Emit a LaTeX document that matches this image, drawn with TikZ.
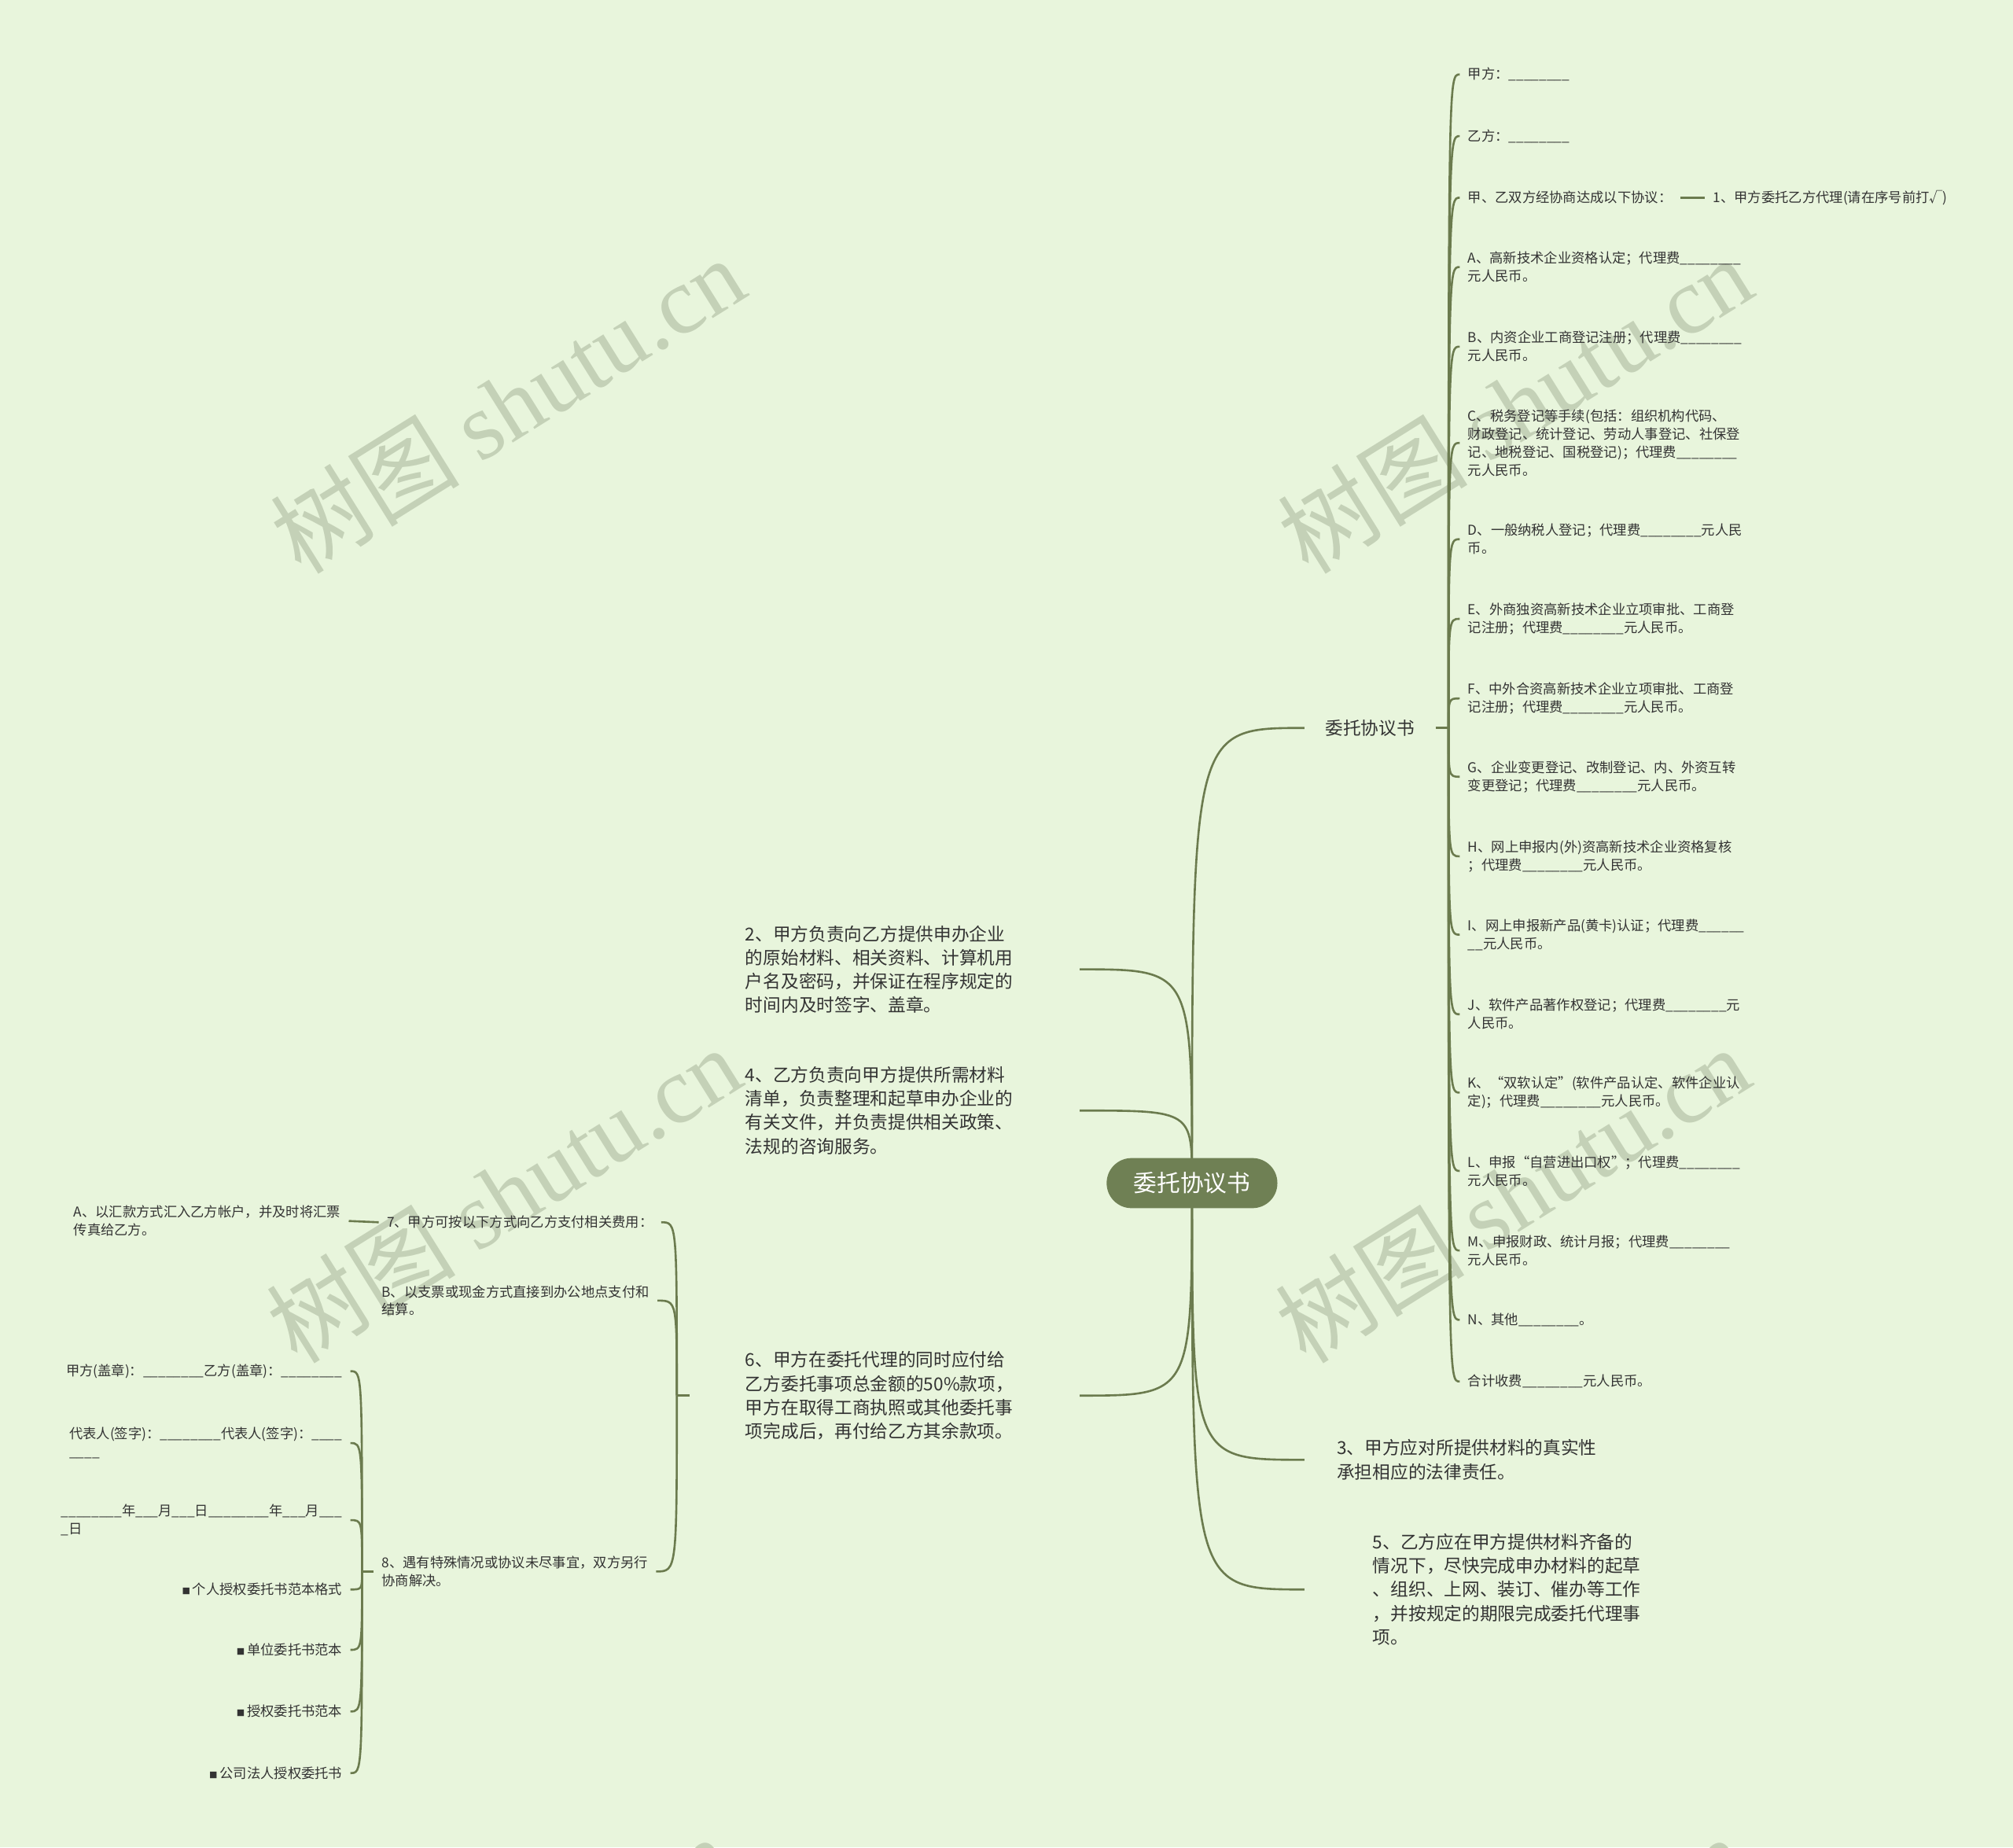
\documentclass[tikz,border=0pt]{standalone}
\usepackage{fontspec}
\setmainfont{Noto Sans CJK SC}
\newfontfamily\wmserif{Liberation Serif}
\newfontfamily\wmcjk{Noto Sans CJK SC}
\usetikzlibrary{calc}
\definecolor{bgc}{HTML}{E8F5DC}
\definecolor{lnc}{HTML}{6B7B4E}
\definecolor{rootc}{HTML}{6F8054}
\definecolor{txc}{HTML}{333333}
\definecolor{wmc}{HTML}{C4D1B7}
\newcommand{\bl}{\_\_\_\_\_\_\_\_}
\newcommand{\sqb}{{\fontsize{3.2pt}{3.2pt}\selectfont ■}\,}
\pgfdeclarelayer{wmlayer}
\pgfdeclarelayer{cnlayer}
\pgfsetlayers{wmlayer,cnlayer,main}
\tikzset{
  sm/.style={font=\fontsize{5.3pt}{7pt}\selectfont, text=txc, align=left, inner xsep=3pt, inner ysep=1pt},
  md/.style={font=\fontsize{6.95pt}{9.25pt}\selectfont, text=txc, align=left, inner ysep=1pt},
  link/.style={draw=lnc, line width=0.8pt},
  rootbox/.style={fill=rootc, text=white, rounded corners=9.7pt, minimum width=66.5pt, minimum height=19.5pt, inner sep=0pt, font=\fontsize{9.1pt}{11pt}\selectfont},
  wmark/.style={text=wmc, rotate=32, inner sep=0pt, font=\fontsize{37pt}{40pt}\selectfont}
}
\begin{document}
\begin{tikzpicture}[x=0.5pt, y=-0.5pt]
\useasboundingbox (0,0) rectangle (1568,1439);

\begin{pgfonlayer}{wmlayer}
\fill[bgc] (0,0) rectangle (1568,1439);
\foreach \wx/\wy in {395/315, 1180/315, 392/930, 1178/930, 385/1545, 1175/1545}
  \node[wmark] (wm\wx\wy) at (\wx,\wy) {\wmcjk 树图 \wmserif shutu.cn};
\end{pgfonlayer}

% root
\node[rootbox] (root) at (928.5,921.5) {委托协议书};

% right main branch
\node[md, inner xsep=8pt, anchor=west] (wt) at (1016,567) {委托协议书};

\node[sm, anchor=west] (r1) at (1137,58) {甲方：\bl};
\node[sm, anchor=west] (r2) at (1137,106) {乙方：\bl};
\node[sm, anchor=west] (r3) at (1137,154) {甲、乙双方经协商达成以下协议：};
\node[sm, anchor=west] (r3a) at (1328,154) {1、甲方委托乙方代理(请在序号前打√)};
\node[sm, anchor=west] (rA) at (1137,208) {A、高新技术企业资格认定；代理费\bl\\元人民币。};
\node[sm, anchor=west] (rB) at (1137,270) {B、内资企业工商登记注册；代理费\bl\\元人民币。};
\node[sm, anchor=west] (rC) at (1137,345) {C、税务登记等手续(包括：组织机构代码、\\财政登记、统计登记、劳动人事登记、社保登\\记、地税登记、国税登记)；代理费\bl\\元人民币。};
\node[sm, anchor=west] (rD) at (1137,420) {D、一般纳税人登记；代理费\bl 元人民\\币。};
\node[sm, anchor=west] (rE) at (1137,482) {E、外商独资高新技术企业立项审批、工商登\\记注册；代理费\bl 元人民币。};
\node[sm, anchor=west] (rF) at (1137,544) {F、中外合资高新技术企业立项审批、工商登\\记注册；代理费\bl 元人民币。};
\node[sm, anchor=west] (rG) at (1137,605) {G、企业变更登记、改制登记、内、外资互转\\变更登记；代理费\bl 元人民币。};
\node[sm, anchor=west] (rH) at (1137,667) {H、网上申报内(外)资高新技术企业资格复核\\；代理费\bl 元人民币。};
\node[sm, anchor=west] (rI) at (1137,728) {I、网上申报新产品(黄卡)认证；代理费\_\_\_\_\_\_\\\_\_元人民币。};
\node[sm, anchor=west] (rJ) at (1137,790) {J、软件产品著作权登记；代理费\bl 元\\人民币。};
\node[sm, anchor=west] (rK) at (1137,851) {K、“双软认定”(软件产品认定、软件企业认\\定)；代理费\bl 元人民币。};
\node[sm, anchor=west] (rL) at (1137,912) {L、申报“自营进出口权”；代理费\bl\\元人民币。};
\node[sm, anchor=west] (rM) at (1137,974) {M、申报财政、统计月报；代理费\bl\\元人民币。};
\node[sm, anchor=west] (rN) at (1137,1028) {N、其他\bl。};
\node[sm, anchor=west] (rS) at (1137,1076) {合计收费\bl 元人民币。};

% right lower branches
\node[md, inner xsep=12.5pt, anchor=west] (c3) at (1016,1137) {3、甲方应对所提供材料的真实性\\承担相应的法律责任。};
\node[md, inner xsep=26.5pt, anchor=west] (c5) at (1016,1238) {5、乙方应在甲方提供材料齐备的\\情况下，尽快完成申办材料的起草\\、组织、上网、装订、催办等工作\\，并按规定的期限完成委托代理事\\项。};

% left branches
\node[md, text width=108.5pt, inner xsep=21.5pt, anchor=east] (c2) at (841,755) {2、甲方负责向乙方提供申办企业\\的原始材料、相关资料、计算机用\\户名及密码，并保证在程序规定的\\时间内及时签字、盖章。};
\node[md, text width=108.5pt, inner xsep=21.5pt, anchor=east] (c4) at (841,865) {4、乙方负责向甲方提供所需材料\\清单，负责整理和起草申办企业的\\有关文件，并负责提供相关政策、\\法规的咨询服务。};
\node[md, text width=108.5pt, inner xsep=21.5pt, anchor=east] (c6) at (841,1087) {6、甲方在委托代理的同时应付给\\乙方委托事项总金额的50\%款项，\\甲方在取得工商执照或其他委托事\\项完成后，再付给乙方其余款项。};

\node[sm, anchor=west] (p7) at (295,952) {7、甲方可按以下方式向乙方支付相关费用：};
\node[sm, anchor=west] (pB) at (291,1013) {B、以支票或现金方式直接到办公地点支付和\\结算。};
\node[sm, anchor=west] (p8) at (291,1224) {8、遇有特殊情况或协议未尽事宜，双方另行\\协商解决。};
\node[sm, anchor=west] (pA) at (51,951) {A、以汇款方式汇入乙方帐户，并及时将汇票\\传真给乙方。};

\node[sm, anchor=east] (q1) at (273,1068) {甲方(盖章)：\bl 乙方(盖章)：\bl};
\node[sm, anchor=east] (q2) at (273,1124) {代表人(签字)：\bl 代表人(签字)：\_\_\_\_\\\_\_\_\_};
\node[sm, anchor=east] (q3) at (273,1184) {\bl 年\_\_\_月\_\_\_日\bl 年\_\_\_月\_\_\_\\\_日};
\node[sm, anchor=east] (q4) at (273,1238) {\sqb 个人授权委托书范本格式};
\node[sm, anchor=east] (q5) at (273,1285) {\sqb 单位委托书范本};
\node[sm, anchor=east] (q6) at (273,1333) {\sqb 授权委托书范本};
\node[sm, anchor=east] (q7) at (273,1381) {\sqb 公司法人授权委托书};

\begin{pgfonlayer}{cnlayer}
% root curves
\foreach \t in {wt,c3,c5}
  \draw[link] (root.center) .. controls (root.center |- \t.west) .. (\t.west);
\foreach \t in {c2,c4,c6}
  \draw[link] (root.center) .. controls (root.center |- \t.east) .. (\t.east);
% right bracket
\coordinate (rs) at ($(wt.east)+(10,0)$);
\draw[link] (wt.east) -- (rs);
\foreach \t in {r1,r2,r3,rA,rB,rC,rD,rE,rF,rG,rH,rI,rJ,rK,rL,rM,rN,rS}
  \draw[link] (rs) .. controls (rs |- \t.west) .. (\t.west);
\draw[link] (r3.east) -- (r3a.west);
% bracket of 6
\coordinate (ls6) at ($(c6.west)+(-10,0)$);
\draw[link] (c6.west) -- (ls6);
\foreach \t in {p7,pB,p8}
  \draw[link] (ls6) .. controls (ls6 |- \t.east) .. (\t.east);
\draw[link] (pA.east) -- (p7.west);
% bracket of 8
\coordinate (ls8) at ($(p8.west)+(-9,0)$);
\draw[link] (p8.west) -- (ls8);
\foreach \t in {q1,q2,q3,q4,q5,q6,q7}
  \draw[link] (ls8) .. controls (ls8 |- \t.east) .. (\t.east);
\end{pgfonlayer}
\end{tikzpicture}
\end{document}
